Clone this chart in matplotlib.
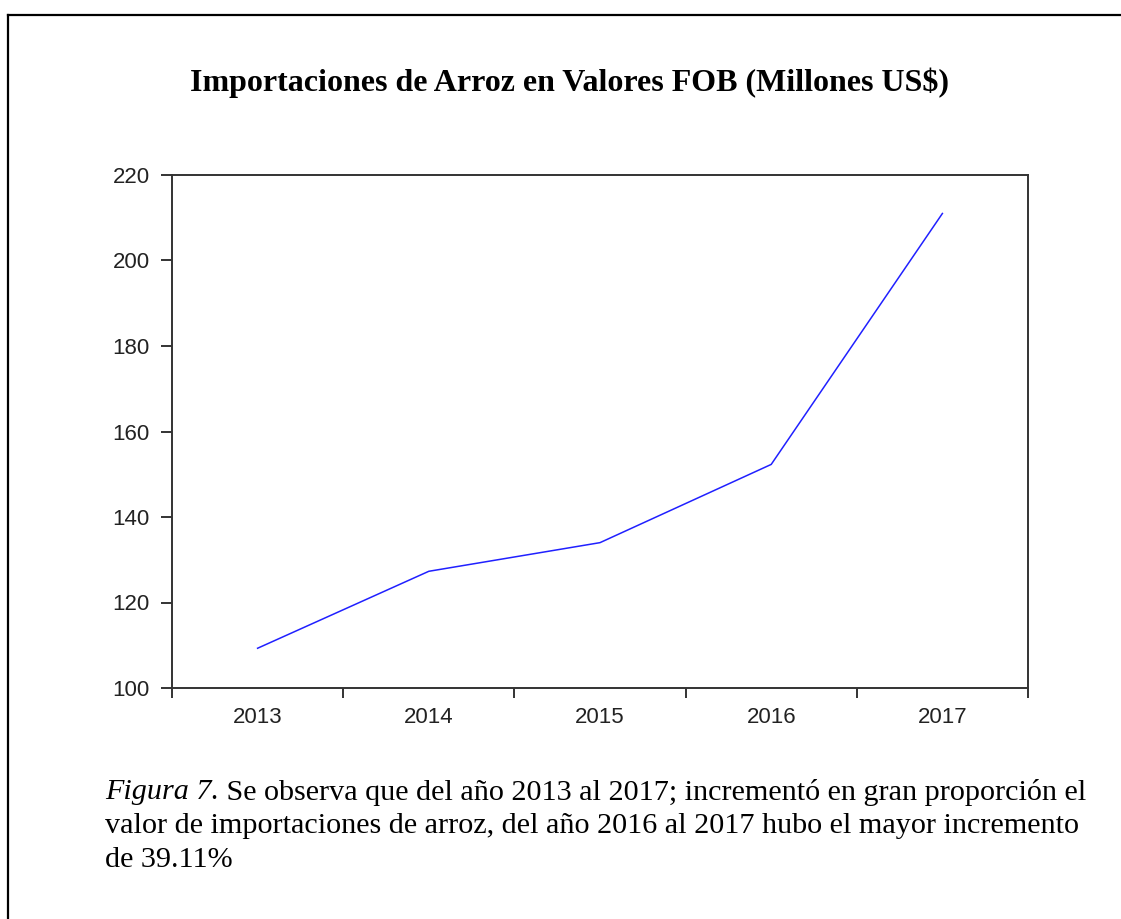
import numpy as np
import matplotlib.pyplot as plt
from matplotlib.ticker import FixedLocator, NullFormatter

# datos
years = ['2013', '2014', '2015', '2016', '2017']
fob = [109.3, 127.3, 134.0, 152.3, 211.0]
yticks = [100, 120, 140, 160, 180, 200, 220]

title = 'Importaciones de Arroz en Valores FOB (Millones US$)'
cap_italic = 'Figura 7.'
cap_lines = [' Se observa que del año 2013 al 2017; incrementó en gran proporción el',
             'valor de importaciones de arroz, del año 2016 al 2017 hubo el mayor incremento',
             'de 39.11%']

W, H = 1121, 919
fig = plt.figure(figsize=(W / 100, H / 100), dpi=100)

# marco exterior (solo arriba e izquierda)
fig.add_artist(plt.Line2D([8 / W, 1], [1 - 15 / H, 1 - 15 / H], color='black', lw=1.6))
fig.add_artist(plt.Line2D([8 / W, 8 / W], [0, 1 - 15 / H], color='black', lw=1.6))

ax = fig.add_axes([172 / W, 1 - 688 / H, 856 / W, 513 / H])
x = np.arange(len(years))
ax.plot(x, fob, color='#2020ff', lw=1.1)

ax.set_xlim(-0.5, len(years) - 0.5)
ax.set_ylim(100, 220)
ax.set_yticks(yticks)

ax.xaxis.set_major_locator(FixedLocator(np.arange(len(years) + 1) - 0.5))
ax.xaxis.set_major_formatter(NullFormatter())
ax.xaxis.set_minor_locator(FixedLocator(x))
ax.set_xticklabels(years, minor=True)
ax.tick_params(axis='x', which='major', direction='out', length=7.5, width=1.4, color='#333333')
ax.tick_params(axis='x', which='minor', length=0, pad=14, labelsize=16, labelcolor='#222222')
ax.tick_params(axis='y', direction='out', length=8, width=1.4, color='#333333',
               pad=8, labelsize=16, labelcolor='#222222')
for lab in ax.get_xticklabels(minor=True) + ax.get_yticklabels():
    lab.set_fontfamily('Liberation Sans')
for sp in ax.spines.values():
    sp.set_linewidth(1.4)
    sp.set_color('#333333')

fig.text(570 / W, 1 - 83 / H, title, ha='center', va='center',
         fontfamily='Liberation Serif', fontweight='bold', fontsize=23)

# leyenda de la figura
x0 = 105 / W
y_lines = [792, 826, 860]
fs = 21.7
t_it = fig.text(x0, 1 - y_lines[0] / H, cap_italic, ha='left', va='center',
                fontfamily='Liberation Serif', fontstyle='italic', fontsize=fs)
fig.canvas.draw()
bb = t_it.get_window_extent()
x1 = bb.x1 / W
fig.text(x1, 1 - y_lines[0] / H, cap_lines[0], ha='left', va='center',
         fontfamily='Liberation Serif', fontsize=fs)
for txt, yy in zip(cap_lines[1:], y_lines[1:]):
    fig.text(x0, 1 - yy / H, txt, ha='left', va='center',
             fontfamily='Liberation Serif', fontsize=fs)

fig.savefig('out.png', dpi=100)
